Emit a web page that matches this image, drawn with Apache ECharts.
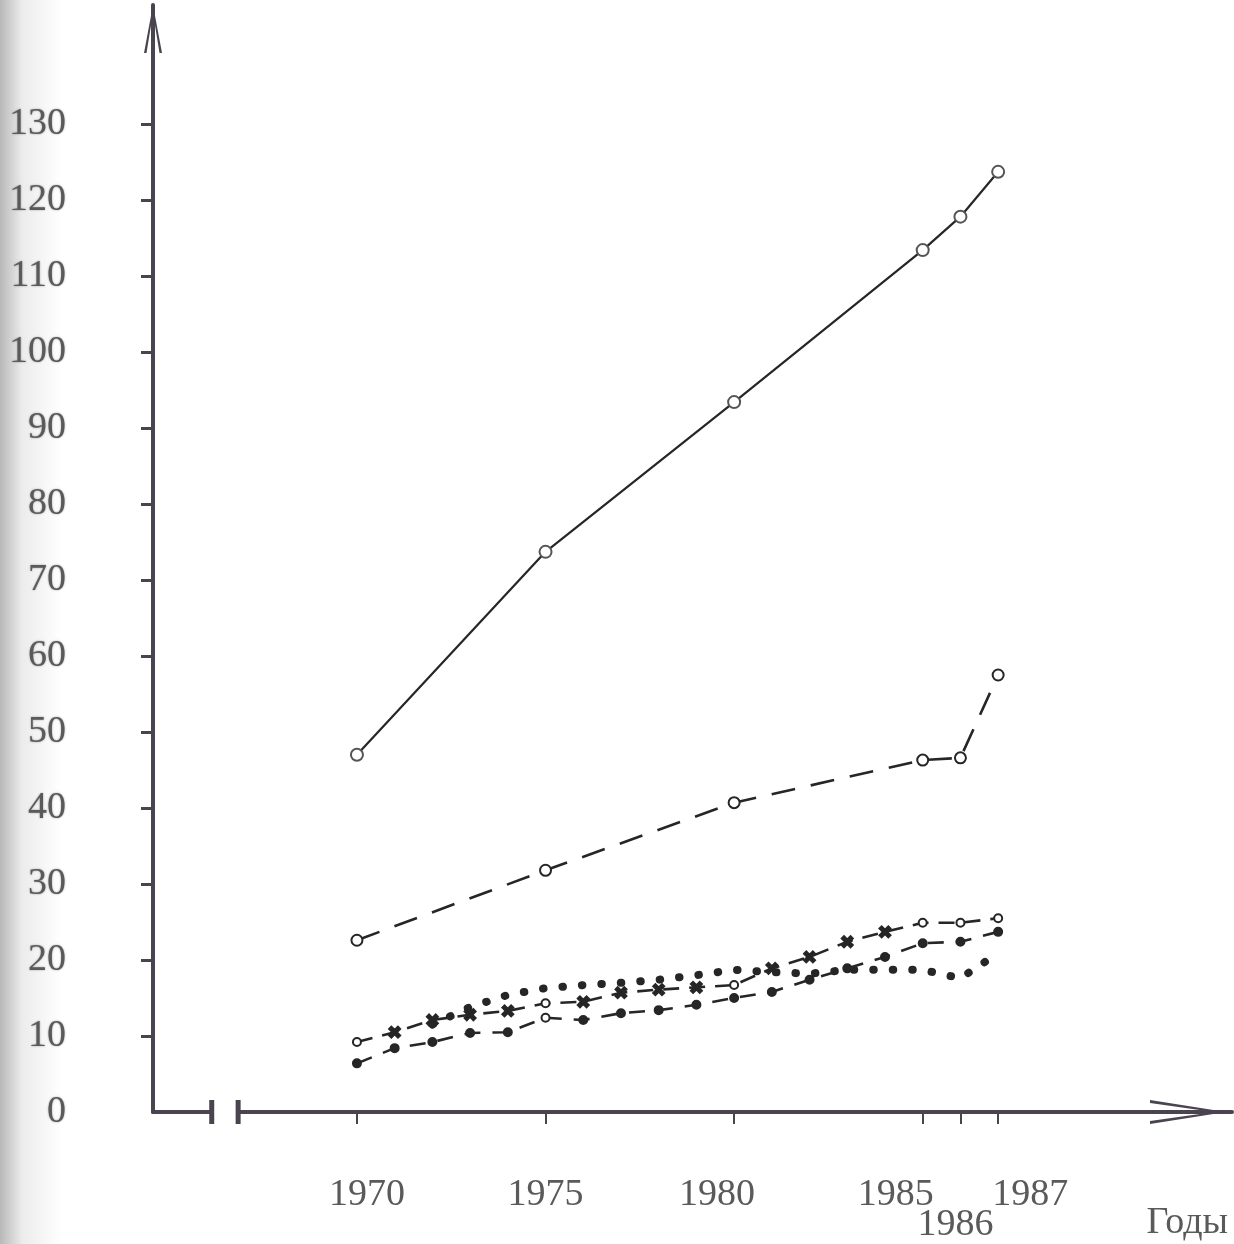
<!DOCTYPE html>
<html><head><meta charset="utf-8">
<script src="https://cdn.jsdelivr.net/npm/echarts@6/dist/echarts.min.js"></script>
<style>html,body{margin:0;padding:0;background:#fff}#c{width:1234px;height:1244px}</style>
</head><body><div id="c"></div>
<script>
// ---------- data ----------
const years = [1970,1971,1972,1973,1974,1975,1976,1977,1978,1979,1980,1981,1982,1983,1984,1985,1986,1987];
const mainYears = [1970,1975,1980,1985,1986,1987];
const xTickYears = [1970,1975,1980,1985,1986,1987];
const xLabelRow1 = [1970,1975,1980,1985];
const xLabelRow1b = [1987];
const xLabelRow2 = [1986];
const yTickValues = [10,20,30,40,50,60,70,80,90,100,110,120,130];
const yLabelValues = [0,10,20,30,40,50,60,70,80,90,100,110,120,130];
const xAxisName = 'Годы';

const seriesTop = [47.0,73.7,93.4,113.4,117.8,123.7];          // mainYears
const seriesSecond = [22.6,31.8,40.7,46.3,46.6,57.5];          // mainYears
const seriesCross = [9.2,10.5,12.1,12.8,13.3,14.3,14.5,15.7,16.1,16.4,16.7,18.9,20.4,22.4,23.7,24.9,24.9,25.5];   // years
const seriesDashDot = [6.4,8.4,9.2,10.4,10.5,12.4,12.1,13.0,13.4,14.1,15.0,15.8,17.4,18.9,20.4,22.2,22.4,23.7];   // years
const dottedYears = [1972,1973,1974,1975,1976,1977,1978,1979,1980,1981,1982,1983,1984,1985,1986,1987];
const seriesDotted = [11.5,13.8,15.4,16.3,16.7,17.0,17.4,18.0,18.7,18.4,18.2,18.7,18.7,18.7,17.6,20.9];
const circleYearsCross = [1970,1975,1980,1985,1986,1987];
const circleYearsDashDot = [1975];
const axisBreak = [1966.15, 1966.85];

// ---------- styles ----------
const INK = '#262626';
const AXIS = '#4a4350';
const FONT = '"Liberation Serif", "DejaVu Serif", serif';
const LABEL_COLOR = '#5a5a5a';
const crossPath = 'path://M0,2L2,0L5,3L8,0L10,2L7,5L10,8L8,10L5,7L2,10L0,8L3,5Z';
const arrowUp = 'path://M9,0L18,48L15.5,48L9,8L2.5,48L0,48Z';
const arrowX = 'path://M12,0L24,76L21,76L12,12L3,76L0,76Z';

const pair = (xs, ys) => xs.map((x, i) => [x, ys[i]]);
const xLabelPad = {1970:[0,0,0,20],1975:[0,0,0,0],1980:[0,34,0,0],1985:[0,54,0,0],1986:[0,10,0,0],1987:[0,0,0,64]};
const rich = {};
Object.keys(xLabelPad).forEach(k => {
  rich['y' + k] = {padding: xLabelPad[k], fontFamily: FONT, fontSize: 38, color: LABEL_COLOR};
});
const X_MIN = 1964.593, X_MAX = 1993.2;
const labelFmt = v => xLabelPad[v] ? '{y' + v + '|' + v + '}' : '';

function labelAxis(values, margin) {
  return {
    type: 'value', min: X_MIN, max: X_MAX, position: 'bottom',
    splitLine: {show: false}, axisLine: {show: false}, axisTick: {show: false},
    axisLabel: {customValues: values, margin: margin, fontFamily: FONT, fontSize: 38, color: LABEL_COLOR,
      formatter: labelFmt, rich: rich}
  };
}

const chart = echarts.init(document.getElementById('c'), null, {renderer: 'canvas'});
const option = {
  backgroundColor: new echarts.graphic.LinearGradient(0, 0, 1, 0, [
    {offset: 0, color: '#b8b8b8'}, {offset: 0.018, color: '#ececec'}, {offset: 0.05, color: '#ffffff'}, {offset: 1, color: '#ffffff'}
  ]),
  animation: false,
  grid: {left: 153, right: 2, top: 5, bottom: 132, containLabel: false},
  xAxis: [
    {
      type: 'value', min: X_MIN, max: X_MAX, position: 'bottom',
      splitLine: {show: false},
      axisLine: {show: true, lineStyle: {color: AXIS, width: 4}, symbol: ['none', arrowX], symbolSize: [24, 76], symbolOffset: [0, -44]},
      axisTick: {show: true, customValues: xTickYears, length: 12, lineStyle: {color: AXIS, width: 2}},
      axisLabel: {customValues: xLabelRow1, margin: 64, fontFamily: FONT, fontSize: 38, color: LABEL_COLOR,
        formatter: labelFmt, rich: rich},
      name: xAxisName, nameLocation: 'end', nameGap: -4,
      nameTextStyle: {fontFamily: FONT, fontSize: 38, color: LABEL_COLOR, align: 'right', verticalAlign: 'top', padding: [92, 0, 0, 0]}
    },
    labelAxis(xLabelRow1b, 64),
    labelAxis(xLabelRow2, 94)
  ],
  yAxis: {
    type: 'value', min: 0, max: 145.65,
    splitLine: {show: false},
    axisLine: {show: true, lineStyle: {color: AXIS, width: 4}, symbol: ['none', arrowUp], symbolSize: [18, 48], symbolOffset: [0, -24]},
    axisTick: {show: true, customValues: yTickValues, length: 12, lineStyle: {color: AXIS, width: 3}},
    axisLabel: {customValues: yLabelValues, margin: 87, fontFamily: FONT, fontSize: 38, color: LABEL_COLOR,
      textShadowColor: 'rgba(90,90,90,0.6)', textShadowBlur: 2}
  },
  series: [
    {
      name: 'top', type: 'line', data: pair(mainYears, seriesTop),
      lineStyle: {color: INK, width: 2.2},
      symbol: 'emptyCircle', symbolSize: 12, itemStyle: {color: '#555', borderWidth: 2, borderColor: '#444'}, z: 5
    },
    {
      name: 'second', type: 'line', data: pair(mainYears, seriesSecond),
      lineStyle: {color: INK, width: 2.6, type: [24, 16]},
      symbol: 'emptyCircle', symbolSize: 11, itemStyle: {color: INK, borderWidth: 4, borderColor: INK}, z: 5
    },
    {
      name: 'cross', type: 'line', data: pair(years, seriesCross),
      lineStyle: {color: INK, width: 2.6, type: [16, 10]},
      symbol: v => circleYearsCross.indexOf(v[0]) >= 0 ? 'emptyCircle' : crossPath,
      symbolSize: v => circleYearsCross.indexOf(v[0]) >= 0 ? 8 : 11,
      itemStyle: {color: INK, borderColor: INK, borderWidth: 2}, z: 4
    },
    {
      name: 'dashdot', type: 'line', data: pair(years, seriesDashDot),
      lineStyle: {color: INK, width: 2.6, type: [16, 12]},
      symbol: v => circleYearsDashDot.indexOf(v[0]) >= 0 ? 'emptyCircle' : 'circle',
      symbolSize: 8,
      itemStyle: {color: INK, borderColor: INK, borderWidth: 2}, z: 4
    },
    {
      name: 'dotted', type: 'line', data: pair(dottedYears, seriesDotted),
      lineStyle: {color: INK, width: 8, type: [0.5, 19], cap: 'round'},
      showSymbol: false, symbol: 'none', z: 3
    }
  ]
};
chart.setOption(option);

const bx1 = chart.convertToPixel({xAxisIndex: 0}, axisBreak[0]);
const bx2 = chart.convertToPixel({xAxisIndex: 0}, axisBreak[1]);
const by = chart.convertToPixel({yAxisIndex: 0}, 0);
chart.setOption({
  graphic: [
    {type: 'rect', z: 100, shape: {x: bx1 + 2, y: by - 4, width: bx2 - bx1 - 4, height: 8}, style: {fill: '#fff'}},
    {type: 'rect', z: 101, shape: {x: bx1 - 2.5, y: by - 12, width: 5, height: 24}, style: {fill: AXIS}},
    {type: 'rect', z: 101, shape: {x: bx2 - 2.5, y: by - 12, width: 5, height: 24}, style: {fill: AXIS}}
  ]
});
</script>
</body></html>
